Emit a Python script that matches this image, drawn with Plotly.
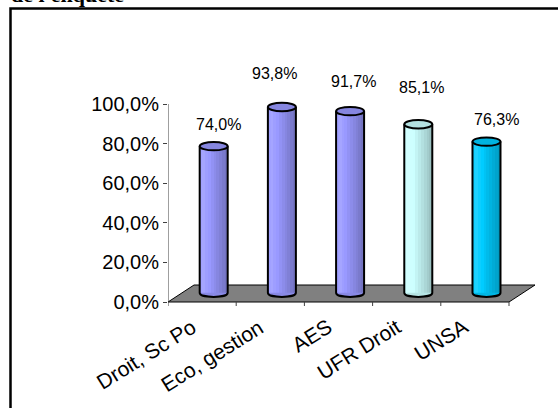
import plotly.graph_objects as go

# ---- data ----
categories = ["Droit, Sc Po", "Eco, gestion", "AES", "UFR Droit", "UNSA"]
values = [74.0, 93.8, 91.7, 85.1, 76.3]
value_labels = ["74,0%", "93,8%", "91,7%", "85,1%", "76,3%"]
ytick_vals = [0, 20, 40, 60, 80, 100]
ytick_text = ["0,0%", "20,0%", "40,0%", "60,0%", "80,0%", "100,0%"]
title_text = "de l'enquête"

# ---- styles / layout constants ----
bar_colors = ["#9999FF", "#9999FF", "#9999FF", "#CCFFFF", "#00CCFF"]
label_dx_px = [5, -7, 3, 3, 10]
label_dy_px = [22, 33, 30, 37, 22]

W, H = 558, 408
L, R, T, B = 168, 8, 20, 78
PX_X = 68.2          # px per category
PX_Y = 1.98          # px per percent
x_min = -0.5
x_max = x_min + (W - L - R) / PX_X
y_zero_px = 302
y_max = (y_zero_px - T) / PX_Y
y_min = -((H - B) - y_zero_px) / PX_Y

depth_dx = 26 / PX_X     # floor depth in x units
depth_dy = 17 / PX_Y     # floor depth in y units
bar_shift = 0.17         # bars sit mid-depth
bar_base = 4.7
bar_w = 28 / PX_X
ry = 4.2 / PX_Y

def px_to_paper_x(px):
    return (px - L) / (W - L - R)

def px_to_paper_y(py):
    return ((H - B) - py) / (H - B - T)

def shade(hexc, f):
    h = hexc.lstrip("#")
    r, g, b = int(h[0:2], 16), int(h[2:4], 16), int(h[4:6], 16)
    if f >= 1:
        k = f - 1
        r, g, b = r + (255 - r) * k, g + (255 - g) * k, b + (255 - b) * k
    else:
        r, g, b = r * f, g * f, b * f
    return "#%02x%02x%02x" % (int(r), int(g), int(b))

n = len(categories)
centers = [i + bar_shift for i in range(n)]
tops = [bar_base + v for v in values]

fig = go.Figure()

# cylinder body as vertical strips (gradient)
strip_factors = [1.08, 1.12, 1.05, 1.0, 0.96, 0.92, 0.88, 0.84, 0.80, 0.76]
ns = len(strip_factors)
sw = bar_w / ns
for k, f in enumerate(strip_factors):
    fig.add_trace(go.Bar(
        x=[c - bar_w / 2 + sw * (k + 0.5) for c in centers],
        y=values,
        base=[bar_base] * n,
        width=[sw * 1.05] * n,
        marker=dict(color=[shade(c, f) for c in bar_colors], line=dict(width=0)),
        showlegend=False, hoverinfo="skip",
    ))

shapes = []
# floor
shapes.append(dict(
    type="path", xref="x", yref="y", layer="below",
    path=f"M {x_min},0 L {n - 0.5},0 L {n - 0.5 + depth_dx},{depth_dy} "
         f"L {x_min + depth_dx},{depth_dy} Z",
    fillcolor="#808080", line=dict(color="#000000", width=1),
))
# y axis line
shapes.append(dict(type="line", xref="x", yref="y", x0=x_min, x1=x_min, y0=0, y1=100,
                   line=dict(color="#404040", width=1)))
# x axis ticks
for i in range(n + 1):
    shapes.append(dict(type="line", xref="x", yref="y", x0=i - 0.5, x1=i - 0.5,
                       y0=0, y1=-4 / PX_Y, line=dict(color="#404040", width=1)))

for i in range(n):
    c = centers[i]
    a = bar_w / 2
    b0 = bar_base
    t = tops[i]
    cy = b0 - 4 / 3 * ry
    # bottom half-ellipse fill
    shapes.append(dict(
        type="path", xref="x", yref="y", layer="above",
        path=f"M {c - a},{b0} C {c - a},{cy} {c + a},{cy} {c + a},{b0} Z",
        fillcolor=shade(bar_colors[i], 0.9), line=dict(width=0),
    ))
    # outline: left side, bottom arc, right side
    shapes.append(dict(
        type="path", xref="x", yref="y", layer="above",
        path=f"M {c - a},{t} L {c - a},{b0} C {c - a},{cy} {c + a},{cy} {c + a},{b0} L {c + a},{t}",
        fillcolor="rgba(0,0,0,0)", line=dict(color="#000000", width=2),
    ))
    # top ellipse
    shapes.append(dict(
        type="circle", xref="x", yref="y", layer="above",
        x0=c - a, x1=c + a, y0=t - ry, y1=t + ry,
        fillcolor=shade(bar_colors[i], 0.88), line=dict(color="#000000", width=2),
    ))

# frame
shapes.append(dict(type="rect", xref="paper", yref="paper",
                   x0=px_to_paper_x(10.5), x1=px_to_paper_x(620),
                   y0=px_to_paper_y(460), y1=px_to_paper_y(8.5),
                   line=dict(color="#000000", width=2.5), fillcolor="rgba(0,0,0,0)"))

annotations = []
for i in range(n):
    annotations.append(dict(
        x=centers[i], y=tops[i], xref="x", yref="y",
        text=value_labels[i], showarrow=False,
        xshift=label_dx_px[i], yshift=label_dy_px[i],
        xanchor="center", yanchor="middle",
        font=dict(family="Liberation Sans, Arial", size=16, color="#000000"),
    ))
for i in range(n):
    annotations.append(dict(
        x=i + 0.0, y=-10 / PX_Y, xref="x", yref="y",
        text=categories[i], showarrow=False, textangle=-32,
        xanchor="right", yanchor="top",
        font=dict(family="Liberation Sans, Arial", size=21, color="#000000"),
    ))
annotations.append(dict(
    x=px_to_paper_x(9), y=px_to_paper_y(9), xref="paper", yref="paper",
    text="<b>" + title_text + "</b>", showarrow=False,
    xanchor="left", yanchor="bottom",
    font=dict(family="Liberation Serif, Times New Roman", size=22, color="#000000"),
))

fig.update_layout(
    width=W, height=H,
    margin=dict(l=L, r=R, t=T, b=B, pad=0),
    paper_bgcolor="#FFFFFF", plot_bgcolor="rgba(0,0,0,0)",
    barmode="overlay", bargap=0,
    shapes=shapes, annotations=annotations,
    xaxis=dict(range=[x_min, x_max], showgrid=False, zeroline=False,
               showline=False, showticklabels=False, ticks=""),
    yaxis=dict(range=[y_min, y_max], showgrid=False, zeroline=False,
               showline=False, tickvals=ytick_vals, ticktext=ytick_text,
               ticks="outside", ticklen=4, tickcolor="#404040",
               tickfont=dict(family="Liberation Sans, Arial", size=20, color="#000000")),
)

fig.write_html("out.html")
